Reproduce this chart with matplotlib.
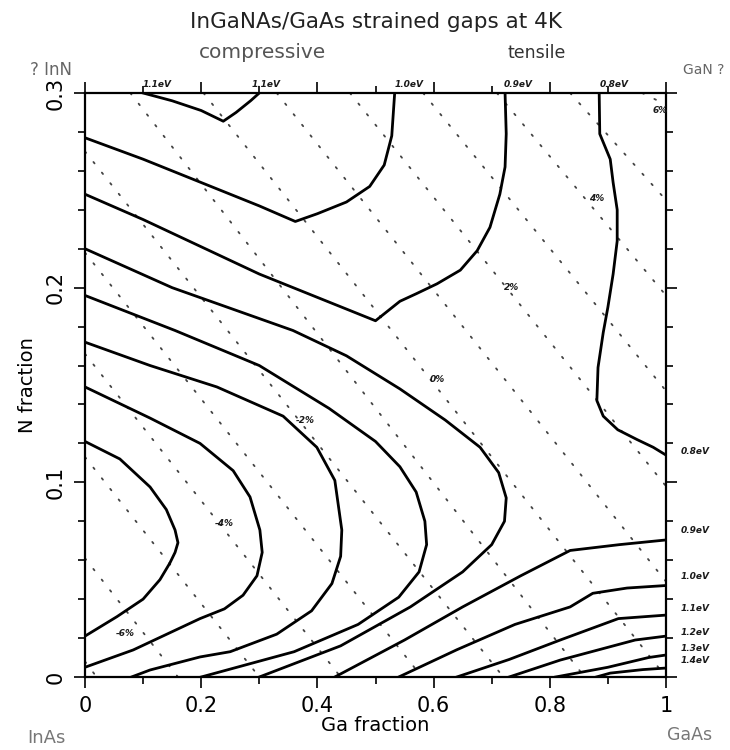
import matplotlib
matplotlib.use("Agg")
import matplotlib.pyplot as plt
from matplotlib.ticker import MultipleLocator

# ---- band-gap contours (Ga fraction, N fraction) ----
gap_04_x = [0, 0.06, 0.112, 0.140, 0.155, 0.160, 0.155, 0.146, 0.129, 0.10, 0.055, 0]
gap_04_y = [0.121, 0.112, 0.0976, 0.086, 0.0755, 0.069, 0.064, 0.0585, 0.050, 0.040, 0.031, 0.021]
gap_05_x = [0, 0.112, 0.198, 0.255, 0.284, 0.301, 0.305, 0.296, 0.272, 0.240, 0.198, 0.083, 0]
gap_05_y = [0.149, 0.133, 0.120, 0.106, 0.0925, 0.0755, 0.064, 0.052, 0.042, 0.035, 0.030, 0.0139, 0.005]
gap_06_x = [0, 0.112, 0.227, 0.341, 0.399, 0.430, 0.442, 0.440, 0.425, 0.39, 0.33, 0.25, 0.198, 0.112, 0.08]
gap_06_y = [0.172, 0.160, 0.149, 0.134, 0.118, 0.101, 0.0755, 0.062, 0.048, 0.034, 0.022, 0.013, 0.0103, 0.0036, 0]
gap_07_x = [0, 0.155, 0.30, 0.42, 0.50, 0.542, 0.570, 0.585, 0.588, 0.575, 0.54, 0.47, 0.36, 0.20]
gap_07_y = [0.196, 0.178, 0.160, 0.138, 0.121, 0.108, 0.095, 0.080, 0.068, 0.054, 0.041, 0.027, 0.013, 0]
gap_08l_x = [0, 0.15, 0.358, 0.45, 0.542, 0.62, 0.68, 0.712, 0.725, 0.722, 0.70, 0.65, 0.56, 0.44, 0.30]
gap_08l_y = [0.220, 0.200, 0.178, 0.165, 0.148, 0.132, 0.118, 0.105, 0.092, 0.080, 0.068, 0.054, 0.036, 0.016, 0]
gap_08r_x = [0.885, 0.886, 0.904, 0.909, 0.916, 0.916, 0.909, 0.900, 0.892, 0.883, 0.881, 0.892, 0.917, 0.95, 0.978, 1]
gap_08r_y = [0.300, 0.279, 0.266, 0.254, 0.240, 0.224, 0.207, 0.190, 0.177, 0.159, 0.142, 0.134, 0.127, 0.122, 0.118, 0.114]
gap_09u_x = [0, 0.10, 0.20, 0.30, 0.40, 0.50, 0.542, 0.571, 0.606, 0.646, 0.675, 0.697, 0.714, 0.723, 0.725, 0.723]
gap_09u_y = [0.248, 0.235, 0.221, 0.207, 0.195, 0.183, 0.193, 0.197, 0.202, 0.209, 0.219, 0.231, 0.248, 0.262, 0.279, 0.300]
gap_09l_x = [0.43, 0.55, 0.65, 0.75, 0.835, 0.92, 1]
gap_09l_y = [0, 0.019, 0.036, 0.052, 0.065, 0.068, 0.0704]
gap_10u_x = [0, 0.10, 0.20, 0.30, 0.362, 0.40, 0.45, 0.49, 0.515, 0.528, 0.533]
gap_10u_y = [0.277, 0.266, 0.254, 0.242, 0.234, 0.238, 0.244, 0.252, 0.263, 0.278, 0.300]
gap_10l_x = [0.54, 0.64, 0.74, 0.835, 0.874, 0.933, 1]
gap_10l_y = [0, 0.014, 0.027, 0.036, 0.043, 0.0457, 0.047]
gap_11u_x = [0.10, 0.15, 0.20, 0.238, 0.26, 0.285, 0.30]
gap_11u_y = [0.300, 0.296, 0.291, 0.2855, 0.290, 0.296, 0.300]
gap_11l_x = [0.64, 0.73, 0.818, 0.918, 1]
gap_11l_y = [0, 0.009, 0.019, 0.030, 0.0318]
gap_12_x = [0.73, 0.818, 0.947, 1]
gap_12_y = [0, 0.0087, 0.019, 0.021]
gap_13_x = [0.81, 0.90, 0.97, 1]
gap_13_y = [0, 0.005, 0.010, 0.0113]
gap_14_x = [0.88, 0.904, 0.96, 1]
gap_14_y = [0, 0.002, 0.0038, 0.0046]

gap_lines = [
    (gap_04_x, gap_04_y), (gap_05_x, gap_05_y), (gap_06_x, gap_06_y),
    (gap_07_x, gap_07_y), (gap_08l_x, gap_08l_y), (gap_08r_x, gap_08r_y),
    (gap_09u_x, gap_09u_y), (gap_09l_x, gap_09l_y), (gap_10u_x, gap_10u_y),
    (gap_10l_x, gap_10l_y), (gap_11u_x, gap_11u_y), (gap_11l_x, gap_11l_y),
    (gap_12_x, gap_12_y), (gap_13_x, gap_13_y), (gap_14_x, gap_14_y),
]

# ---- strain lines (percent) with their two end points ----
strain_pct = [-7, -6, -5, -4, -3, -2, -1, 0, 1, 2, 3, 4, 5, 6]
strain_x0 = [0, 0, 0, 0, 0, 0, 0.078, 0.204, 0.330, 0.456, 0.582, 0.709, 0.835, 0.959]
strain_y0 = [0.008, 0.061, 0.113, 0.166, 0.218, 0.270, 0.3, 0.3, 0.3, 0.3, 0.3, 0.3, 0.3, 0.3]
strain_x1 = [0.02, 0.16, 0.30, 0.44, 0.58, 0.72, 0.86, 1, 1, 1, 1, 1, 1, 1]
strain_y1 = [0, 0, 0, 0, 0, 0, 0, 0, 0.049, 0.098, 0.147, 0.196, 0.245, 0.294]

strain_labels = ["-6%", "-4%", "-2%", "0%", "2%", "4%", "6%"]
strain_label_x = [0.07, 0.24, 0.379, 0.607, 0.735, 0.88, 0.99]
strain_label_y = [0.0226, 0.079, 0.132, 0.153, 0.200, 0.246, 0.291]

# ---- gap labels on the top and right edges ----
top_labels = ["1.1eV", "1.1eV", "1.0eV", "0.9eV", "0.8eV"]
top_label_x = [0.10, 0.287, 0.533, 0.72, 0.885]
right_labels = ["0.8eV", "0.9eV", "1.0eV", "1.1eV", "1.2eV", "1.3eV", "1.4eV"]
right_label_y = [0.1156, 0.0755, 0.0514, 0.0354, 0.0231, 0.0144, 0.0087]

fig = plt.figure(figsize=(7.3, 7.5), dpi=100)
ax = fig.add_axes([85 / 730, 73 / 750, 581 / 730, 584 / 750])

for x0, y0, x1, y1 in zip(strain_x0, strain_y0, strain_x1, strain_y1):
    ax.plot([x0, x1], [y0, y1], color="#444444", lw=1.3,
            linestyle=(0, (1, 6.5)), dash_capstyle="round")

for xs, ys in gap_lines:
    ax.plot(xs, ys, color="black", lw=2.0, solid_joinstyle="round")

lab_font = dict(fontsize=6.5, fontweight="bold", fontstyle="italic", color="#1a1a1a")
for t, x, y in zip(strain_labels, strain_label_x, strain_label_y):
    ax.text(x, y, t, ha="center", va="center", **lab_font)
for t, x in zip(top_labels, top_label_x):
    ax.text(x, 0.302, t, ha="left", va="bottom", **lab_font)
for t, y in zip(right_labels, right_label_y):
    ax.text(1.025, y, t, ha="left", va="center", **lab_font)

ax.set_xlim(0, 1)
ax.set_ylim(0, 0.3)
ax.xaxis.set_minor_locator(MultipleLocator(0.1))
ax.yaxis.set_minor_locator(MultipleLocator(0.02))
ax.set_xticks([0, 0.2, 0.4, 0.6, 0.8, 1])
ax.set_xticklabels(["0", "0.2", "0.4", "0.6", "0.8", "1"])
ax.set_yticks([0, 0.1, 0.2, 0.3])
ax.set_yticklabels(["0", "0.1", "0.2", "0.3"], rotation=90, va="center")
ax.tick_params(axis="both", which="both", direction="out", top=True, right=True,
               width=1.2, color="black")
ax.tick_params(axis="both", which="major", length=8, labelsize=15, pad=6)
ax.tick_params(axis="both", which="minor", length=5)
for s in ax.spines.values():
    s.set_linewidth(1.6)

ax.set_xlabel("Ga fraction", fontsize=14, labelpad=0)
ax.set_ylabel("N fraction", fontsize=14, labelpad=6)

fig.text(376 / 730, 1 - 22 / 750, "InGaNAs/GaAs strained gaps at 4K", ha="center",
         va="center", fontsize=15.5, color="#222222")
fig.text(263 / 730, 1 - 53 / 750, "compressive", ha="center", va="center",
         fontsize=14.5, color="#555555")
fig.text(537 / 730, 1 - 53 / 750, "tensile", ha="center", va="center",
         fontsize=12.5, color="#333333")
fig.text(30 / 730, 1 - 70 / 750, "? InN", ha="left", va="center", fontsize=12, color="#666666")
fig.text(683 / 730, 1 - 70 / 750, "GaN ?", ha="left", va="center", fontsize=10, color="#666666")
fig.text(27 / 730, 1 - 738 / 750, "InAs", ha="left", va="center", fontsize=13, color="#777777")
fig.text(667 / 730, 1 - 735 / 750, "GaAs", ha="left", va="center", fontsize=12.5, color="#777777")

fig.savefig("out.png", dpi=100)
